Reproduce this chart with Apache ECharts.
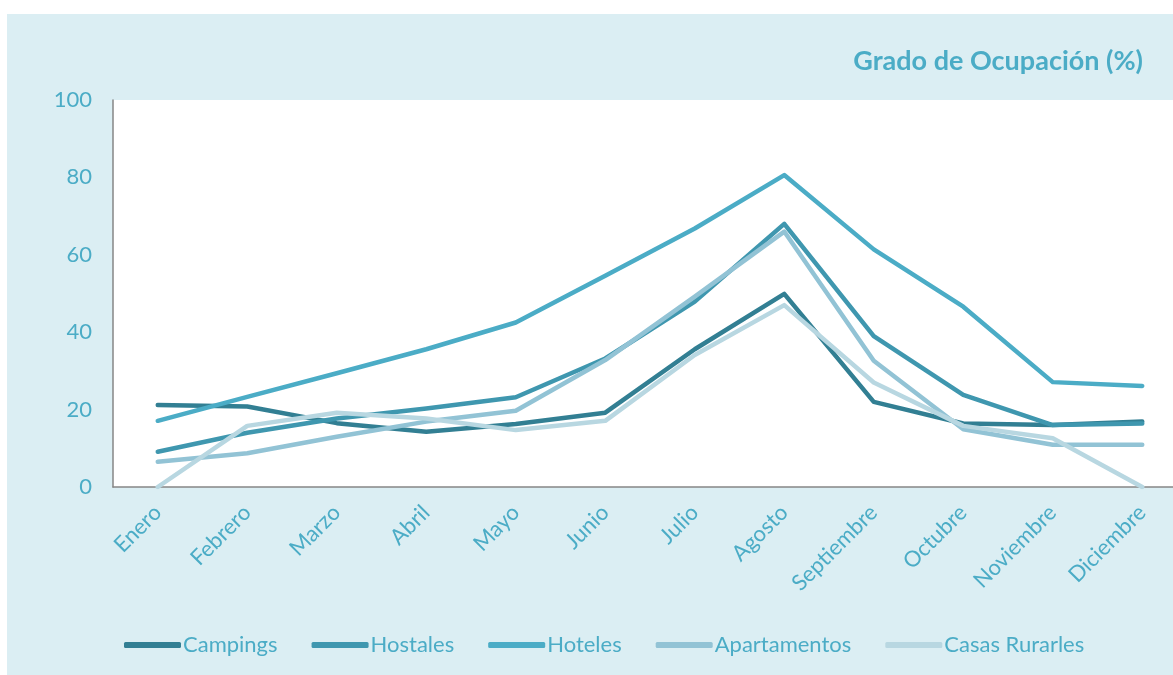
<!DOCTYPE html>
<html lang="es">
<head>
    <meta charset="UTF-8">
    <title>Grado de Ocupación (%)</title>
    <script src="https://cdn.jsdelivr.net/npm/echarts@6/dist/echarts.min.js"></script>
    <style>
        html, body { margin: 0; padding: 0; background: #ffffff; }
        #graph { width: 1173px; height: 675px; }
    </style>
</head>
<body>
<div id="graph"></div>
<script>
    var meses = ['Enero', 'Febrero', 'Marzo', 'Abril', 'Mayo', 'Junio', 'Julio', 'Agosto', 'Septiembre', 'Octubre', 'Noviembre', 'Diciembre'];
    var campings     = [21.2, 20.8, 16.5, 14.3, 16.3, 19.2, 35.6, 49.9, 22.0, 16.4, 16.0, 16.9];
    var hostales     = [9.1, 14.0, 17.7, 20.3, 23.2, 33.2, 47.9, 68.0, 39.0, 23.8, 16.0, 16.4];
    var hoteles      = [17.1, 23.3, 29.4, 35.6, 42.5, 54.6, 66.8, 80.6, 61.4, 46.6, 27.1, 26.1];
    var apartamentos = [6.5, 8.7, 13.0, 16.9, 19.7, 32.8, 49.2, 66.0, 32.6, 14.9, 10.9, 10.9];
    var casas        = [0, 15.8, 19.2, 17.7, 14.7, 17.1, 34.1, 47.0, 27.0, 15.8, 12.6, 0];
    var yTicks = [0, 20, 40, 60, 80, 100];

    var txt = '#4BACC6';
    var fuente = 'Lato, "Open Sans", sans-serif';

    var myChart = echarts.init(document.getElementById('graph'));

    function serie(nombre, datos, color) {
        return {
            name: nombre,
            type: 'line',
            data: datos,
            symbol: 'none',
            color: color,
            lineStyle: { width: 4.5, color: color, cap: 'round', join: 'round' },
            emphasis: { disabled: true }
        };
    }

    var option = {
        animation: false,
        textStyle: { fontFamily: fuente },
        graphic: [{
            type: 'rect',
            z: -10,
            shape: { x: 7, y: 14, width: 1166, height: 661 },
            style: { fill: '#DBEEF3' }
        }],
        title: {
            text: 'Grado de Ocupación (%)',
            right: 25,
            top: 43,
            textStyle: { color: txt, fontSize: 27, fontWeight: 'bold', fontFamily: fuente }
        },
        legend: {
            bottom: 14,
            left: 119,
            icon: 'roundRect',
            itemWidth: 57,
            itemHeight: 6,
            itemGap: 34,
            textStyle: { color: txt, fontSize: 22, padding: [0, 0, 0, -3], fontFamily: fuente },
            data: ['Campings', 'Hostales', 'Hoteles', 'Apartamentos', 'Casas Rurarles']
        },
        grid: {
            left: 113,
            width: 1074,
            top: 100,
            height: 387,
            outerBoundsMode: 'none',
            containLabel: false,
            show: true,
            backgroundColor: '#ffffff',
            borderWidth: 0
        },
        xAxis: {
            type: 'category',
            data: meses,
            boundaryGap: true,
            axisLine: { lineStyle: { color: '#868686', width: 1.5 } },
            axisTick: { show: false },
            axisLabel: { color: txt, fontSize: 22, rotate: 45, margin: 22, interval: 0 }
        },
        yAxis: {
            type: 'value',
            min: yTicks[0],
            max: yTicks[yTicks.length - 1],
            interval: 20,
            axisLine: { show: true, lineStyle: { color: '#868686', width: 1.5 } },
            axisTick: { show: false },
            splitLine: { show: false },
            axisLabel: { color: txt, fontSize: 22, margin: 21 }
        },
        series: [
            serie('Campings', campings, '#327F93'),
            serie('Hostales', hostales, '#3F97AF'),
            serie('Hoteles', hoteles, '#4BACC6'),
            serie('Apartamentos', apartamentos, '#92C3D5'),
            serie('Casas Rurarles', casas, '#B8D7E1')
        ]
    };

    myChart.setOption(option);
</script>
</body>
</html>
